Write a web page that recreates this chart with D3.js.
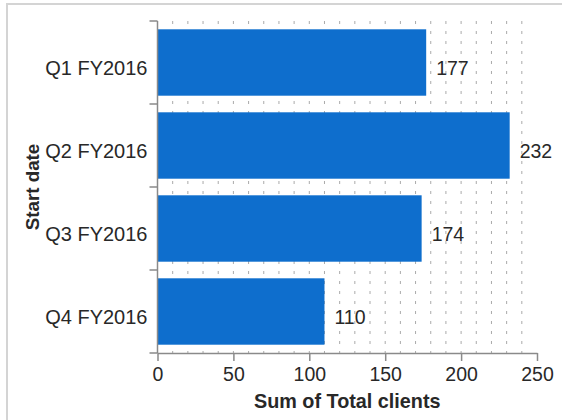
<!DOCTYPE html>
<html>
<head>
<meta charset="utf-8">
<script src="https://cdn.jsdelivr.net/npm/d3@7"></script>
<style>
  html, body { margin: 0; padding: 0; background: #fff; }
  svg { display: block; font-family: "Liberation Sans", Arial, sans-serif; }
</style>
</head>
<body>
<svg id="chart" width="562" height="420"></svg>
<script>
const categories = ["Q1 FY2016", "Q2 FY2016", "Q3 FY2016", "Q4 FY2016"];
const values = [177, 232, 174, 110];
const xTicks = [0, 50, 100, 150, 200, 250];
const gridValues = d3.range(10, 250, 10);
const xTitle = "Sum of Total clients";
const yTitle = "Start date";

const svg = d3.select("#chart");
const plotLeft = 157.5, plotRight = 537, plotTop = 21, plotBottom = 353;

// outer frame
svg.append("rect").attr("x", 7).attr("y", 4).attr("width", 600).attr("height", 500)
  .attr("fill", "none").attr("stroke", "#d4d4d4").attr("stroke-width", 2);

const x = d3.scaleLinear().domain([0, 250]).range([plotLeft, plotRight]);
const y = d3.scaleBand().domain(categories).range([plotTop, plotBottom]).paddingInner(0.2).paddingOuter(0.1);

// grid
svg.append("g").selectAll("line").data(gridValues).join("line")
  .attr("x1", d => x(d)).attr("x2", d => x(d))
  .attr("y1", plotTop).attr("y2", plotBottom)
  .attr("stroke", "#aaaaaa").attr("stroke-width", 1)
  .attr("stroke-dasharray", "3,7");

// bars
svg.append("g").selectAll("rect").data(categories).join("rect")
  .attr("x", x(0)).attr("y", d => y(d))
  .attr("width", (d, i) => x(values[i]) - x(0))
  .attr("height", y.bandwidth())
  .attr("fill", "#0e6ecd");

// value labels
svg.append("g").selectAll("text").data(categories).join("text")
  .attr("x", (d, i) => x(values[i]) + 10)
  .attr("y", d => y(d) + y.bandwidth() / 2 + 12)
  .attr("font-size", 19.5).attr("fill", "#282828")
  .text((d, i) => values[i]);

// y axis
const step = y.step();
const boundaries = categories.map(c => y(c) - y.paddingInner() * step / 2).concat([plotBottom]);
const yAxis = svg.append("g");
yAxis.append("line").attr("x1", plotLeft).attr("x2", plotLeft).attr("y1", plotTop).attr("y2", plotBottom)
  .attr("stroke", "#8a8a8a").attr("stroke-width", 1.5);
yAxis.selectAll("line.tick").data(boundaries).join("line").attr("class", "tick")
  .attr("x1", plotLeft - 8).attr("x2", plotLeft).attr("y1", d => d).attr("y2", d => d)
  .attr("stroke", "#8a8a8a").attr("stroke-width", 1.5);
yAxis.selectAll("text").data(categories).join("text")
  .attr("x", plotLeft - 10).attr("y", d => y(d) + y.bandwidth() / 2 + 12)
  .attr("text-anchor", "end").attr("font-size", 20).attr("fill", "#282828")
  .text(d => d);

// x axis
const xAxis = svg.append("g").attr("transform", `translate(0,${plotBottom})`)
  .call(d3.axisBottom(x).tickValues(xTicks).tickSizeInner(8).tickSizeOuter(0).tickPadding(6));
xAxis.select(".domain").attr("stroke", "#8a8a8a").attr("stroke-width", 1.5);
xAxis.selectAll(".tick line").attr("stroke", "#8a8a8a").attr("stroke-width", 1.5);
xAxis.selectAll(".tick text").attr("font-size", 19.5).attr("fill", "#282828")
  .attr("font-family", "Liberation Sans, Arial, sans-serif");

// titles
svg.append("text").attr("x", (plotLeft + plotRight) / 2).attr("y", 408)
  .attr("text-anchor", "middle").attr("font-size", 19.8).attr("font-weight", "bold").attr("fill", "#282828")
  .text(xTitle);
svg.append("text").attr("transform", `translate(39,${(plotTop + plotBottom) / 2}) rotate(-90)`)
  .attr("text-anchor", "middle").attr("font-size", 18.8).attr("font-weight", "bold").attr("fill", "#282828")
  .text(yTitle);
</script>
</body>
</html>
